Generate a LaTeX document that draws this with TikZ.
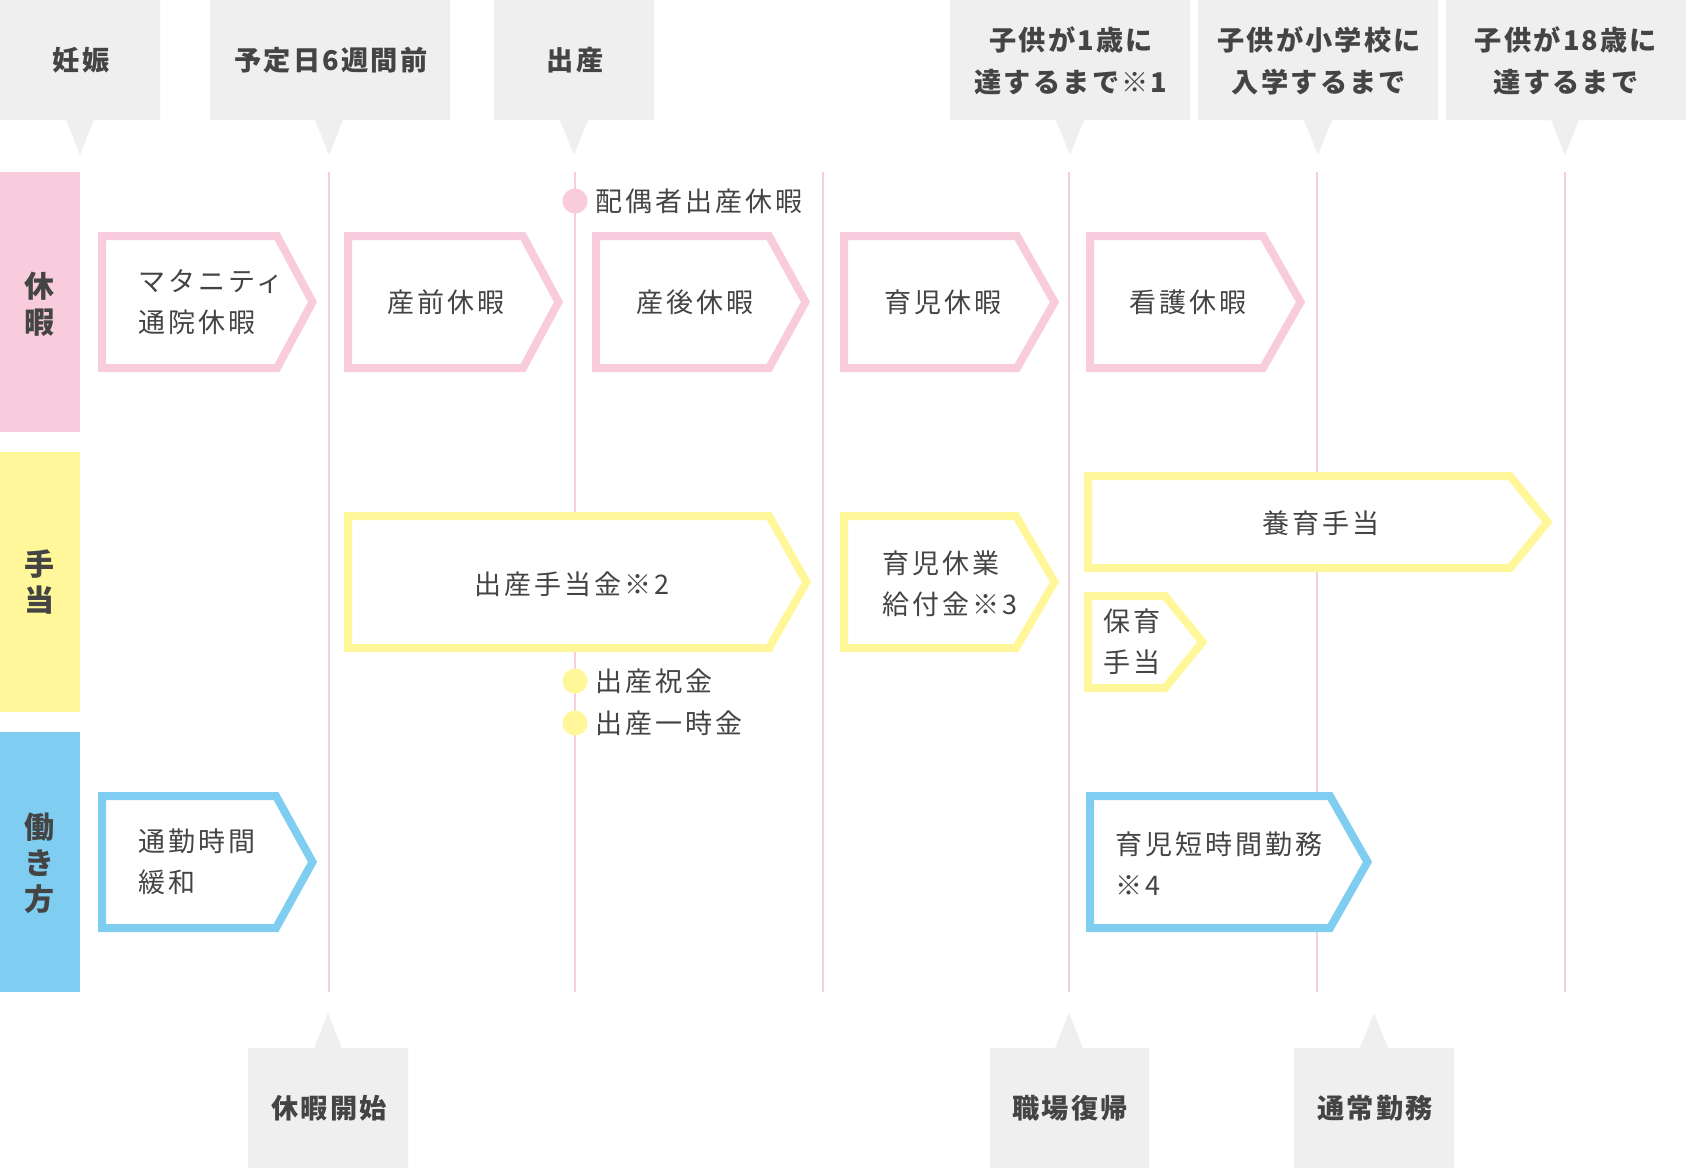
\documentclass[tikz,border=0pt]{standalone}
\usepackage{fontspec}
\newfontfamily\jp[LetterSpace=11]{Noto Sans CJK JP}
\newfontfamily\jph[LetterSpace=8]{Noto Sans CJK JP}
\newfontfamily\jpv{Noto Sans CJK JP}
\definecolor{pk}{HTML}{F8CCDC}
\definecolor{pkl}{HTML}{F6CFDC}
\definecolor{yl}{HTML}{FFF799}
\definecolor{bl}{HTML}{7FCEF2}
\definecolor{hbg}{HTML}{EFEFEF}
\definecolor{txt}{HTML}{444444}
\newcommand{\abox}[6]{%
  \draw[#1] (#2+4,#3+4) -- (#4-2,#3+4) -- (#5-4.5,{(#3+#6)/2}) -- (#4-2,#6-4) -- (#2+4,#6-4) -- cycle;}
\newcommand{\topbox}[3]{%
  \fill[hbg] (#1,0) -- (#2,0) -- (#2,120) -- (#3+14,120) -- (#3,155) -- (#3-14,120) -- (#1,120) -- cycle;}
\newcommand{\botbox}[3]{%
  \fill[hbg] (#1,1168) -- (#1,1048) -- (#3-14,1048) -- (#3,1013) -- (#3+14,1048) -- (#2,1048) -- (#2,1168) -- cycle;}
\begin{document}
\begin{tikzpicture}[x=0.5pt,y=-0.5pt,
  pinkbox/.style={draw=pk,fill=white,line width=4pt,line join=miter},
  yelbox/.style={draw=yl,fill=white,line width=4pt,line join=miter},
  bluebox/.style={draw=bl,fill=white,line width=4pt,line join=miter},
  vline/.style={draw=pkl,line width=0.75pt},
  hdr/.style={font=\jph\bfseries\fontsize{13.6}{21}\selectfont,text=txt,align=center,inner sep=0pt},
  bandlbl/.style={font=\jpv\bfseries\fontsize{15}{18}\selectfont,text=txt,align=center,inner sep=0pt},
  body/.style={font=\jp\fontsize{13.5}{20.5}\selectfont,text=txt,align=left,inner sep=0pt},
  bodyl/.style={body,anchor=west},
  dotp/.style={fill=pk},
  doty/.style={fill=yl}]
\useasboundingbox (0,0) rectangle (1686,1168);
\fill[white] (0,0) rectangle (1686,1168);

% header boxes
\topbox{0}{160}{80}
\topbox{210}{450}{329}
\topbox{494}{654}{574}
\topbox{950}{1190}{1070}
\topbox{1198}{1438}{1318}
\topbox{1446}{1686}{1565}
\botbox{248}{408}{328}
\botbox{990}{1149}{1069}
\botbox{1294}{1454}{1374}

\node[hdr] (h1) at (81,60) {妊娠};
\node[hdr] (h2) at (331,60) {予定日6週間前};
\node[hdr] (h3) at (575,60) {出産};
\node[hdr] (h4) at (1071,61) {子供が1歳に\\達するまで※1};
\node[hdr] (h5) at (1319,61) {子供が小学校に\\入学するまで};
\node[hdr] (h6) at (1566,61) {子供が18歳に\\達するまで};
\node[hdr] (f1) at (329,1108) {休暇開始};
\node[hdr] (f2) at (1070,1108) {職場復帰};
\node[hdr] (f3) at (1375,1108) {通常勤務};

% bands
\fill[pk] (0,172) rectangle (80,432);
\fill[yl] (0,452) rectangle (80,712);
\fill[bl] (0,732) rectangle (80,992);
\node[bandlbl] (l1) at (40,304) {休\\暇};
\node[bandlbl] (l2) at (40,582) {手\\当};
\node[bandlbl] (l3) at (40,863) {働\\き\\方};

% vertical guide lines
\foreach \x in {329,575,823,1069,1317,1565}
  \draw[vline] (\x,172) -- (\x,992);

% leave boxes
\abox{pinkbox}{98}{232}{279}{317}{372}
\abox{pinkbox}{344}{232}{525}{563}{372}
\abox{pinkbox}{592}{232}{771}{810}{372}
\abox{pinkbox}{840}{232}{1019}{1059}{372}
\abox{pinkbox}{1086}{232}{1265}{1305}{372}
\node[bodyl] (p1) at (138,302) {マタニティ\\通院休暇};
\node[body] (p2) at (446,302) {産前休暇};
\node[body] (p3) at (695,302) {産後休暇};
\node[body] (p4) at (943,302) {育児休暇};
\node[body] (p5) at (1188,302) {看護休暇};

% allowance boxes
\abox{yelbox}{344}{512}{771}{811}{652}
\abox{yelbox}{840}{512}{1018}{1059}{652}
\abox{yelbox}{1084}{472}{1512}{1552}{572}
\abox{yelbox}{1084}{592}{1167}{1207}{692}
\node[body] (y1) at (572,584) {出産手当金※2};
\node[bodyl] (y2) at (882,584) {育児休業\\給付金※3};
\node[body] (y3) at (1321,523) {養育手当};
\node[bodyl] (y4) at (1103,642) {保育\\手当};

% working style boxes
\abox{bluebox}{98}{792}{278}{317}{932}
\abox{bluebox}{1086}{792}{1332}{1372}{932}
\node[bodyl] (w1) at (138,862) {通勤時間\\緩和};
\node[bodyl] (w2) at (1115,864) {育児短時間勤務\\※4};

% dots with labels
\fill[dotp] (575,201) circle[radius=6.25pt];
\fill[doty] (575,681) circle[radius=6.25pt];
\fill[doty] (575,723) circle[radius=6.25pt];
\node[bodyl] (d1) at (595,201) {配偶者出産休暇};
\node[bodyl] (d2) at (595,681) {出産祝金};
\node[bodyl] (d3) at (595,723) {出産一時金};
\end{tikzpicture}
\end{document}
